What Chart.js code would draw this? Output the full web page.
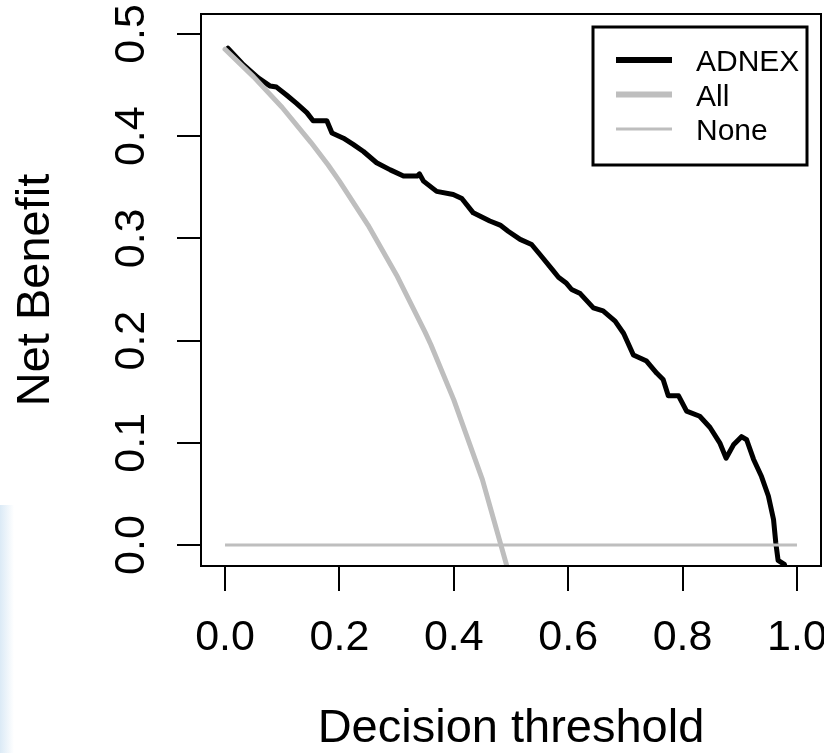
<!DOCTYPE html>
<html>
<head>
<meta charset="utf-8">
<script src="https://cdn.jsdelivr.net/npm/chart.js@4.4.1/dist/chart.umd.min.js"></script>
<style>
  html, body { margin: 0; padding: 0; background: #ffffff; }
  #wrap { position: relative; width: 824px; height: 753px; background: #ffffff; overflow: hidden; }
  #smear { position: absolute; left: 0; top: 505px; width: 14px; height: 248px;
           background: linear-gradient(to right, rgba(195,220,240,0.6), rgba(255,255,255,0)); }
  canvas { position: absolute; left: 0; top: 0; display: block; }
</style>
</head>
<body>
<div id="wrap"><div id="smear"></div><canvas id="c" width="824" height="753"></canvas></div>
<script>
// ---- data ----
const seriesNames = ['ADNEX', 'All', 'None'];
const xTicks = [0.0, 0.2, 0.4, 0.6, 0.8, 1.0];
const yTicks = [0.0, 0.1, 0.2, 0.3, 0.4, 0.5];

const adnexX = [0.005, 0.030, 0.058, 0.079, 0.090, 0.108, 0.125, 0.143, 0.154, 0.178,
                0.187, 0.207, 0.224, 0.242, 0.265, 0.289, 0.312, 0.336, 0.340, 0.347,
                0.370, 0.399, 0.414, 0.434, 0.463, 0.481, 0.495, 0.516, 0.536, 0.551,
                0.573, 0.583, 0.597, 0.606, 0.621, 0.644, 0.661, 0.682, 0.697, 0.714,
                0.737, 0.755, 0.766, 0.775, 0.793, 0.807, 0.830, 0.848, 0.865, 0.876,
                0.889, 0.903, 0.912, 0.924, 0.938, 0.950, 0.959, 0.963, 0.967, 0.978, 0.990];
const adnexY = [0.486, 0.471, 0.457, 0.449, 0.448, 0.440, 0.432, 0.423, 0.415, 0.415,
                0.403, 0.398, 0.392, 0.385, 0.374, 0.367, 0.361, 0.361, 0.363, 0.356,
                0.346, 0.343, 0.339, 0.325, 0.317, 0.313, 0.307, 0.299, 0.294, 0.284,
                0.269, 0.262, 0.256, 0.250, 0.246, 0.232, 0.229, 0.219, 0.207, 0.186,
                0.180, 0.168, 0.162, 0.146, 0.146, 0.131, 0.126, 0.115, 0.100, 0.085,
                0.098, 0.106, 0.103, 0.084, 0.067, 0.048, 0.025, 0.002, -0.015, -0.019, -0.040];

const allX = [0.00, 0.05, 0.10, 0.15, 0.18, 0.20, 0.25, 0.30, 0.35, 0.36, 0.40, 0.45, 0.495, 0.50];
const allY = [0.485, 0.458, 0.428, 0.394, 0.372, 0.356, 0.313, 0.264, 0.208, 0.196, 0.142, 0.064, -0.025, -0.030];

const noneX = [0.0, 1.0];
const noneY = [0.0, 0.0];

// ---- styles ----
const FONT = '"Liberation Sans", Arial, Helvetica, sans-serif';
const GRAY = '#bebebe';

function pts(xs, ys) { return xs.map((x, i) => ({ x: x, y: ys[i] })); }

const boxAndLegend = {
  id: 'boxAndLegend',
  afterDraw(chart) {
    const { ctx, chartArea: a } = chart;
    ctx.save();
    ctx.strokeStyle = '#000';
    ctx.lineWidth = 2;
    ctx.strokeRect(a.left, a.top, a.right - a.left, a.bottom - a.top);

    const bx = a.right - 228, by = a.top + 13, bw = 214, bh = 138;
    ctx.lineWidth = 3;
    ctx.strokeRect(bx, by, bw, bh);
    ctx.font = '30px ' + FONT;
    ctx.textAlign = 'left';
    ctx.textBaseline = 'middle';
    ctx.fillStyle = '#000';
    seriesNames.forEach((name, i) => {
      const ds = chart.data.datasets.find(d => d.label === name);
      const y = by + 33 + i * 34.5;
      ctx.beginPath();
      ctx.strokeStyle = ds.borderColor;
      ctx.lineWidth = ds.borderWidth + (name === 'None' ? 0 : 1);
      ctx.moveTo(bx + 23, y);
      ctx.lineTo(bx + 79, y);
      ctx.stroke();
      ctx.fillText(name, bx + 103, y + 3);
    });
    ctx.restore();
  }
};

new Chart(document.getElementById('c'), {
  type: 'line',
  data: {
    datasets: [
      { label: 'None', data: pts(noneX, noneY), borderColor: GRAY, borderWidth: 3,
        pointRadius: 0, tension: 0, order: 0, borderCapStyle: 'butt' },
      { label: 'All', data: pts(allX, allY), borderColor: GRAY, borderWidth: 5,
        pointRadius: 0, tension: 0, order: 1, borderCapStyle: 'round', borderJoinStyle: 'round' },
      { label: 'ADNEX', data: pts(adnexX, adnexY), borderColor: '#000000', borderWidth: 5,
        pointRadius: 0, tension: 0, order: 2, borderCapStyle: 'round', borderJoinStyle: 'round' }
    ]
  },
  options: {
    responsive: false,
    devicePixelRatio: 1,
    animation: false,
    events: [],
    layout: { padding: { top: 14, right: 3, left: 0, bottom: 0 } },
    plugins: { legend: { display: false }, tooltip: { enabled: false }, title: { display: false } },
    scales: {
      x: {
        type: 'linear',
        min: -0.042, max: 1.042,
        afterBuildTicks: s => { s.ticks = xTicks.map(v => ({ value: v })); },
        afterFit: s => { s.height = 187; s.paddingLeft = 0; s.paddingRight = 0; },
        border: { display: false },
        grid: { drawOnChartArea: false, drawTicks: true, tickLength: 25, color: '#000', lineWidth: 2 },
        ticks: {
          autoSkip: false, maxRotation: 0, minRotation: 0, padding: 21, color: '#000',
          font: { family: FONT, size: 43 },
          callback: v => Number(v).toFixed(1)
        },
        title: { display: true, text: 'Decision threshold', color: '#000',
                 font: { family: FONT, size: 47, lineHeight: 1 }, padding: { top: 0, bottom: 0 } }
      },
      y: {
        type: 'linear',
        min: -0.0205, max: 0.5195,
        afterBuildTicks: s => { s.ticks = yTicks.map(v => ({ value: v })); },
        afterFit: s => { s.width = 201; s.paddingTop = 0; s.paddingBottom = 0; },
        border: { display: false },
        grid: { drawOnChartArea: false, drawTicks: true, tickLength: 24, color: '#000', lineWidth: 2 },
        ticks: {
          autoSkip: false, minRotation: 90, maxRotation: 90, crossAlign: 'center', padding: 15, color: '#000',
          font: { family: FONT, size: 43 },
          callback: v => Number(v).toFixed(1)
        },
        title: { display: true, text: 'Net Benefit', color: '#000',
                 font: { family: FONT, size: 47, lineHeight: 1 }, padding: { top: 12.5, bottom: 0 } }
      }
    }
  },
  plugins: [boxAndLegend]
});
</script>
</body>
</html>
